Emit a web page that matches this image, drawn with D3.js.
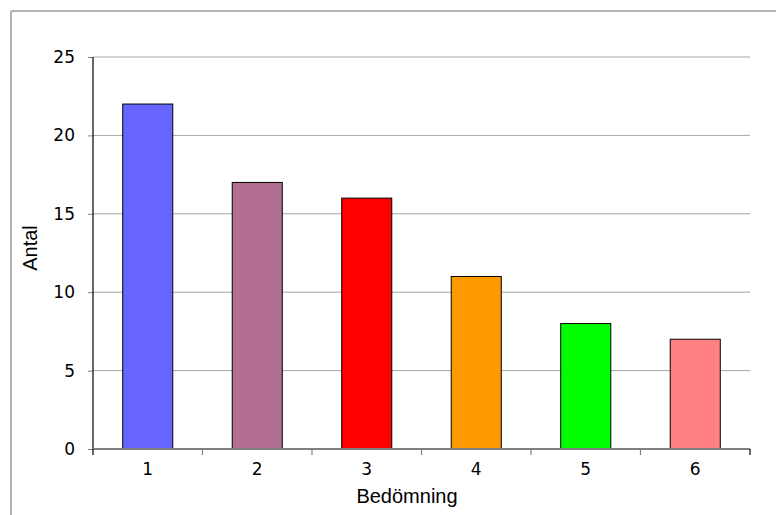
<!DOCTYPE html>
<html><head><meta charset="utf-8">
<script src="https://cdn.jsdelivr.net/npm/d3@7"></script>
<style>body{margin:0;background:#fff}svg{display:block}</style>
</head><body>
<svg id="c" width="776" height="515"></svg>
<script>
const categories = ["1","2","3","4","5","6"];
const values = [22, 17, 16, 11, 8, 7];
const colors = ["#6666FF","#B36F91","#FF0000","#FF9900","#00FF00","#FF8080"];
const yTicks = [0,5,10,15,20,25];
const xTitle = "Bedömning";
const yTitle = "Antal";

const svg = d3.select("#c");
const W = 776, H = 515;
const m = {left:93, right:750, top:57, bottom:449};

// outer frame (left and top visible)
svg.append("line").attr("x1",11).attr("x2",W).attr("y1",11).attr("y2",11).attr("stroke","#b3b3b3").attr("stroke-width",2);
svg.append("line").attr("x1",11).attr("x2",11).attr("y1",11).attr("y2",H).attr("stroke","#b3b3b3").attr("stroke-width",2);

const x = d3.scaleBand().domain(categories).range([m.left, m.right]).padding(0);
const y = d3.scaleLinear().domain([0,25]).range([m.bottom, m.top]);

// gridlines
svg.append("g").selectAll("line").data(yTicks.filter(d=>d>0)).join("line")
  .attr("x1",m.left).attr("x2",m.right)
  .attr("y1",d=>y(d)).attr("y2",d=>y(d))
  .attr("stroke","#a6a6a6").attr("stroke-width",1);

// bars
const bw = x.bandwidth()*0.457;
svg.append("g").selectAll("rect").data(values).join("rect")
  .attr("x",(d,i)=>x(categories[i])+x.bandwidth()/2-bw/2)
  .attr("y",d=>y(d))
  .attr("width",bw)
  .attr("height",d=>y(0)-y(d))
  .attr("fill",(d,i)=>colors[i])
  .attr("stroke","#000").attr("stroke-width",1);

// y axis
const ya = svg.append("g").attr("transform",`translate(${m.left},0)`)
  .call(d3.axisLeft(y).tickValues(yTicks).tickSize(5).tickPadding(13).tickFormat(d3.format("d")));
ya.select(".domain").remove();
ya.selectAll(".tick line").attr("stroke","#808080");
ya.selectAll("text").attr("font-family","DejaVu Sans, Verdana, sans-serif").attr("font-size",17).attr("fill","#000");
svg.append("line").attr("x1",m.left).attr("x2",m.left).attr("y1",m.top).attr("y2",m.bottom).attr("stroke","#000").attr("stroke-width",1.2);

// x axis
const xa = svg.append("g").attr("transform",`translate(0,${m.bottom})`)
  .call(d3.axisBottom(x).tickSize(0).tickPadding(14));
xa.select(".domain").remove();
xa.selectAll("text").attr("font-family","DejaVu Sans, Verdana, sans-serif").attr("font-size",17).attr("fill","#000");
svg.append("line").attr("x1",m.left).attr("x2",m.right).attr("y1",m.bottom).attr("y2",m.bottom).attr("stroke","#808080").attr("stroke-width",2);
const bounds = categories.map(c=>x(c)).concat([m.right]);
svg.append("g").selectAll("line").data(bounds).join("line")
  .attr("x1",d=>d).attr("x2",d=>d).attr("y1",m.bottom).attr("y2",m.bottom+6)
  .attr("stroke",(d,i)=> (i===0||i===bounds.length-1)?"#000":"#808080").attr("stroke-width",1.2);

// titles
svg.append("text").attr("x",407).attr("y",503).attr("text-anchor","middle")
  .attr("font-family","Liberation Sans, Arial, sans-serif").attr("font-size",20).text(xTitle);
svg.append("text").attr("transform","translate(37,248) rotate(-90)").attr("text-anchor","middle")
  .attr("font-family","Liberation Sans, Arial, sans-serif").attr("font-size",20).text(yTitle);
</script>
</body></html>
